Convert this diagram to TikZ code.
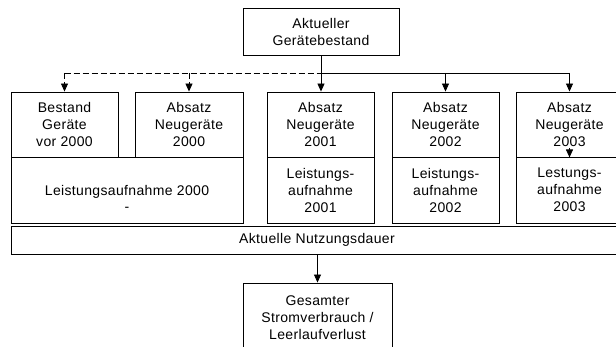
\documentclass[tikz,border=0pt]{standalone}
\usepackage{fontspec}
\setmainfont[LetterSpace=2.5]{Liberation Sans}
\usetikzlibrary{arrows.meta}
\begin{document}
\begin{tikzpicture}[x=1pt,y=-1pt,
  box/.style={draw=black,line width=0.9pt,rectangle,inner sep=0pt,align=center,
    font=\fontsize{14pt}{17pt}\selectfont},
  arr/.style={line width=0.9pt,-{Triangle[width=7pt,length=8pt]}},
  ln/.style={line width=0.9pt},
  dsh/.style={dash pattern=on 6pt off 3pt}]
\useasboundingbox (0,0) rectangle (616,347);
\clip (0,0) rectangle (616,347);
\fill[white] (0,0) rectangle (616,347);
% top
\node[box,minimum width=156pt,minimum height=47pt] (top) at (321,31.5) {Aktueller\\Gerätebestand};
% row 1
\node[box,minimum width=107pt,minimum height=65pt] (b1) at (64.5,124.5) {Bestand\\Geräte\\vor 2000};
\node[box,minimum width=108pt,minimum height=65pt] (b2) at (189,124.5) {Absatz\\Neugeräte\\2000};
\node[box,minimum width=107pt,minimum height=65pt] (b3) at (320.5,124.5) {Absatz\\Neugeräte\\2001};
\node[box,minimum width=107pt,minimum height=65pt] (b4) at (445.5,124.5) {Absatz\\Neugeräte\\2002};
\node[box,minimum width=107pt,minimum height=65pt] (b5) at (569.5,124.5) {Absatz\\Neugeräte\\2003};
% row 2
\node[box,minimum width=232pt,minimum height=66pt] (l1) at (127,190) {};
\node[font=\fontsize{14pt}{17pt}\selectfont,inner sep=0pt] (l1t) at (127,192) {Leistungsaufnahme 2000};
\node[font=\fontsize{14pt}{17pt}\selectfont,inner sep=0pt] (l1d) at (127,209) {-};
\node[box,minimum width=107pt,minimum height=66pt] (l2) at (320.5,190) {Leistungs-\\aufnahme\\2001};
\node[box,minimum width=107pt,minimum height=66pt] (l3) at (445.5,190) {Leistungs-\\aufnahme\\2002};
\node[box,minimum width=107pt,minimum height=66pt] (l4) at (569.5,190) {Lestungs-\\aufnahme\\2003};
% bar
\node[box,minimum width=612pt,minimum height=28pt] (bar) at (317,240) {Aktuelle Nutzungsdauer};
% bottom
\node[box,minimum width=149pt,minimum height=70pt] (bot) at (317.5,318) {Gesamter\\Stromverbrauch /\\Leerlaufverlust};
% connectors
\coordinate (j) at (321,73);
\coordinate (jl) at (64.5,73);
\coordinate (j2) at (189,73);
\coordinate (j4) at (445.5,73);
\coordinate (jr) at (569.5,73);
\draw[ln] (top.south) -- (j);
\draw[ln,dsh] (jl) -- (j);
\draw[ln] (j) -- (jr);
\draw[arr,dsh] (jl) -- (b1.north);
\draw[arr,dsh] (j2) -- (b2.north);
\draw[arr] (j) -- (j |- b3.north);
\draw[arr] (j4) -- (b4.north);
\draw[arr] (jr) -- (b5.north);
\coordinate (s) at (569.5,148);
\draw[arr] (s) -- (b5.south);
\draw[arr] (bot.north |- bar.south) -- (bot.north);
\end{tikzpicture}
\end{document}
